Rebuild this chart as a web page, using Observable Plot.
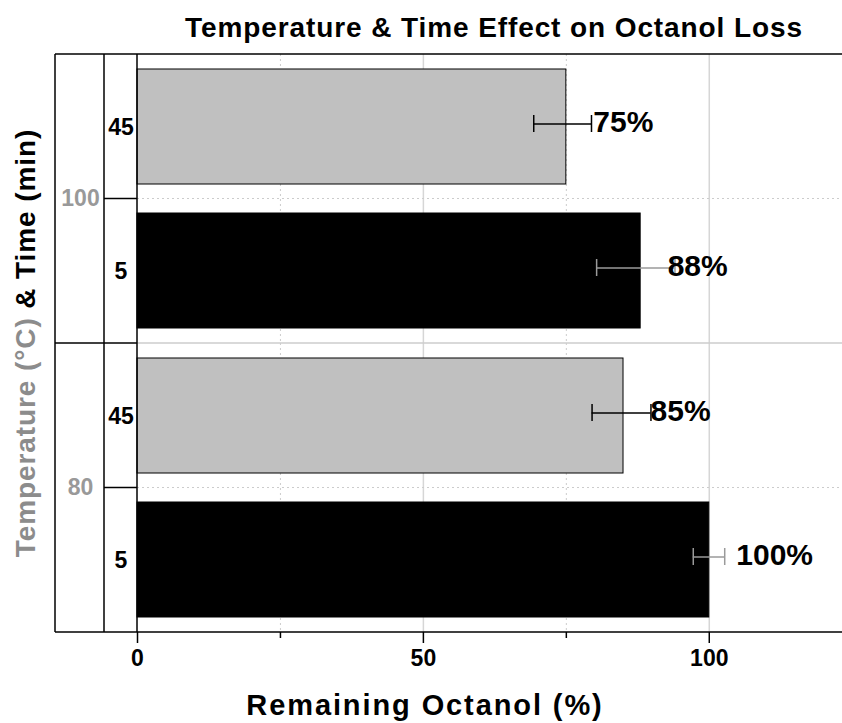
<!DOCTYPE html>
<html>
<head>
<meta charset="utf-8">
<script src="https://cdn.jsdelivr.net/npm/d3@7"></script>
<script src="https://cdn.jsdelivr.net/npm/@observablehq/plot@0.6"></script>
<style>
  body { margin: 0; background: #fff; }
  #chart svg { display: block; }
</style>
</head>
<body>
<div id="chart"></div>
<script>
// Temperature groups (°C) and exposure times (min), top to bottom
const temperatures = ["100", "80"];
const times = ["45", "5"];

// One entry per bar, in drawing order
const rowTemperature = ["100", "100", "80", "80"];
const rowTime = ["45", "5", "45", "5"];
const remaining = [75, 88, 85, 100];     // remaining octanol, %
const errorLow = [69.3, 80.3, 79.5, 97.2];
const errorHigh = [79.4, 94.0, 89.8, 102.7];

// Axis ticks
const majorTicks = [0, 50, 100];
const minorTicks = [25, 75];
const xMax = 123.3;

const rows = remaining.map((value, i) => ({
  temp: rowTemperature[i],
  time: rowTime[i],
  value,
  lo: errorLow[i],
  hi: errorHigh[i]
}));
const longRows = rows.filter(d => d.time === times[0]);
const shortRows = rows.filter(d => d.time === times[1]);
const bottomFacet = temperatures[temperatures.length - 1];

const W = 842, H = 723;
const M = {top: 54, right: 0, bottom: 91, left: 137};
const tempColumnLeft = 55;   // left edge of the temperature column
const timeColumnLeft = 104;  // left edge of the time column
const font = "'Liberation Sans', Arial, Helvetica, sans-serif";

const errorMarks = (data, color) => [
  Plot.ruleY(data, {fy: "temp", y: "time", x1: "lo", x2: "hi", stroke: color, strokeWidth: 1.5, dy: -3}),
  Plot.tickX(data, {fy: "temp", y: "time", x: "lo", stroke: color, strokeWidth: 1.5, insetTop: 49, insetBottom: 49, dy: -3}),
  Plot.tickX(data, {fy: "temp", y: "time", x: "hi", stroke: color, strokeWidth: 1.5, insetTop: 49, insetBottom: 49, dy: -3})
];

const chart = Plot.plot({
  width: W,
  height: H,
  marginTop: M.top,
  marginRight: M.right,
  marginBottom: M.bottom,
  marginLeft: M.left,
  style: {fontFamily: font, fontSize: "22px", fontWeight: "bold", color: "#000", background: "#fff"},
  x: {domain: [0, xMax]},
  y: {domain: times, axis: null, paddingInner: 0.2, paddingOuter: 0.1},
  fy: {domain: temperatures, axis: null, padding: 0},
  color: {domain: times, range: ["#c0c0c0", "#000000"]},
  marks: [
    Plot.ruleX(majorTicks.filter(d => d > 0), {stroke: "#d6d6d6", strokeWidth: 1.5}),
    Plot.ruleX(minorTicks, {stroke: "#cccccc", strokeWidth: 1, strokeDasharray: "2,3"}),
    // value axis: tick lines from the axis, bold labels as a text mark
    Plot.axisX(majorTicks, {tickSize: 11, tickFormat: () => "", strokeWidth: 1.5, label: null}),
    Plot.axisX(minorTicks, {tickSize: 6, tickFormat: () => "", strokeWidth: 1.5, label: null}),
    Plot.text(majorTicks, {x: d => d, fy: () => bottomFacet, text: d => `${d}`, frameAnchor: "bottom",
      dy: 33, fontSize: 23, fontWeight: "bold", fill: "#000"}),
    Plot.barX(rows, {fy: "temp", y: "time", x: "value", fill: "time", stroke: "#000", strokeWidth: 1}),
    ...errorMarks(longRows, "#000"),
    ...errorMarks(shortRows, "#9a9a9a"),
    Plot.text(rows, {fy: "temp", y: "time", x: "value", text: d => `${d.value}%`,
      textAnchor: "start", dx: 27, dy: -5, fontSize: 30, fontWeight: "bold", fill: "#000"}),
    Plot.text(rows, {fy: "temp", y: "time", text: "time", frameAnchor: "left",
      dx: -16.5, dy: 1, textAnchor: "middle", fontSize: 23, fill: "#000"}),
    Plot.text(temperatures, {fy: d => d, text: d => d, frameAnchor: "left",
      dx: -57, textAnchor: "middle", fontSize: 23, fill: "#999999"})
  ]
});

document.getElementById("chart").append(chart);

const svg = d3.select(chart);

// Table-style frame, separators and titles
const plotTop = M.top, plotBottom = H - M.bottom;
const facetH = (plotBottom - plotTop) / temperatures.length;

const sep = svg.append("g").attr("fill", "none");
temperatures.forEach((t, i) => {
  const top = plotTop + i * facetH;
  const mid = top + facetH / 2;
  // dotted separator between time rows inside the plot
  sep.append("line").attr("x1", M.left).attr("x2", W).attr("y1", mid).attr("y2", mid)
    .attr("stroke", "#cccccc").attr("stroke-dasharray", "2,3");
  if (i > 0) {
    sep.append("line").attr("x1", M.left).attr("x2", W).attr("y1", top).attr("y2", top)
      .attr("stroke", "#cccccc").attr("stroke-width", 1.5);
  }
});

const frame = svg.append("g").attr("stroke", "#000").attr("stroke-width", 1.5).attr("fill", "none");
const hline = (x1, x2, y) => frame.append("line").attr("x1", x1).attr("x2", x2).attr("y1", y).attr("y2", y);
const vline = (x, y1, y2) => frame.append("line").attr("x1", x).attr("x2", x).attr("y1", y1).attr("y2", y2);
hline(tempColumnLeft, W, plotTop);
hline(tempColumnLeft, W, plotBottom);
vline(tempColumnLeft, plotTop, plotBottom);
vline(timeColumnLeft, plotTop, plotBottom);
vline(M.left, plotTop, plotBottom);
temperatures.forEach((t, i) => {
  const top = plotTop + i * facetH;
  if (i > 0) hline(tempColumnLeft, M.left, top);
  hline(timeColumnLeft, M.left, top + facetH / 2);
});

const label = (x, y, size) => svg.append("text")
  .attr("x", x).attr("y", y)
  .attr("text-anchor", "middle")
  .style("font-family", font).style("font-weight", "bold").style("font-size", size + "px");

label(494, 37, 28).attr("fill", "#000").style("letter-spacing", "0.9px")
  .text("Temperature & Time Effect on Octanol Loss");

label(425, 715, 29).attr("fill", "#000").style("letter-spacing", "1.9px")
  .text("Remaining Octanol (%)");

const yTitle = svg.append("text")
  .attr("transform", `translate(35,${(plotTop + plotBottom) / 2}) rotate(-90)`)
  .attr("text-anchor", "middle")
  .style("font-family", font).style("font-weight", "bold").style("font-size", "28px")
  .style("letter-spacing", "0.9px");
yTitle.append("tspan").attr("fill", "#8c8c8c").text("Temperature (°C)");
yTitle.append("tspan").attr("fill", "#000").text(" & Time (min)");
</script>
</body>
</html>
